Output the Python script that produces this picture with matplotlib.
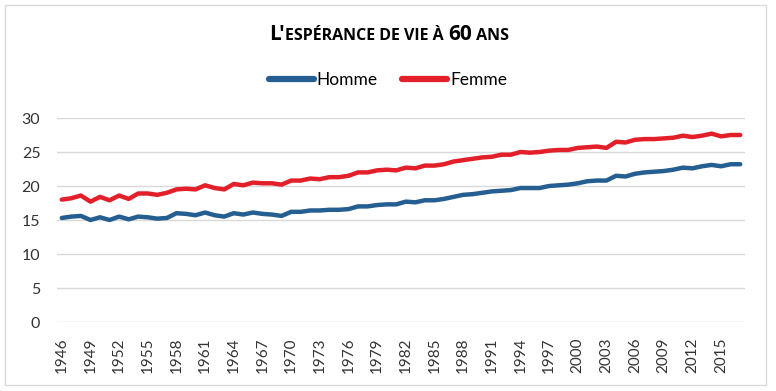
import matplotlib
matplotlib.use("Agg")
import matplotlib.pyplot as plt
from matplotlib.patches import Rectangle
from matplotlib.lines import Line2D

# espérance de vie à 60 ans (années)
years = list(range(1946, 2018))
homme = [15.3, 15.5, 15.6, 15.0, 15.4, 15.0, 15.5, 15.1, 15.5, 15.4,
         15.2, 15.3, 16.0, 15.9, 15.7, 16.1, 15.7, 15.5, 16.0, 15.8,
         16.1, 15.9, 15.8, 15.6, 16.2, 16.2, 16.4, 16.4, 16.5, 16.5,
         16.6, 17.0, 17.0, 17.2, 17.3, 17.3, 17.7, 17.6, 17.9, 17.9,
         18.1, 18.4, 18.7, 18.8, 19.0, 19.2, 19.3, 19.4, 19.7, 19.7,
         19.7, 20.0, 20.1, 20.2, 20.4, 20.7, 20.8, 20.8, 21.5, 21.4,
         21.8, 22.0, 22.1, 22.2, 22.4, 22.7, 22.6, 22.9, 23.1, 22.9,
         23.2, 23.2]
femme = [18.0, 18.2, 18.6, 17.7, 18.4, 17.9, 18.6, 18.1, 18.9, 18.9,
         18.7, 19.0, 19.5, 19.6, 19.5, 20.1, 19.7, 19.5, 20.3, 20.1,
         20.5, 20.4, 20.4, 20.2, 20.8, 20.8, 21.1, 21.0, 21.3, 21.3,
         21.5, 22.0, 22.0, 22.3, 22.4, 22.3, 22.7, 22.6, 23.0, 23.0,
         23.2, 23.6, 23.8, 24.0, 24.2, 24.3, 24.6, 24.6, 25.0, 24.9,
         25.0, 25.2, 25.3, 25.3, 25.6, 25.7, 25.8, 25.6, 26.5, 26.4,
         26.8, 26.9, 26.9, 27.0, 27.1, 27.4, 27.2, 27.4, 27.7, 27.3,
         27.5, 27.5]
yticks = [0, 5, 10, 15, 20, 25, 30]

BLUE = "#255E91"
RED = "#E3202A"
GRID = "#D9D9D9"
FONT = "Lato"

plt.rcParams["font.family"] = [FONT, "DejaVu Sans"]

fig = plt.figure(figsize=(7.76, 3.91), dpi=100)
fig.patches.append(Rectangle((5 / 776, 6 / 391), 761 / 776, 380 / 391,
                             transform=fig.transFigure, fill=False,
                             edgecolor=GRID, lw=1))

ax = fig.add_axes([57 / 776, 1 - 322 / 391, 688 / 776, 204 / 391])
x = list(range(len(years)))
ax.plot(x, homme, color=BLUE, lw=3.2, solid_capstyle="round", label="Homme")
ax.plot(x, femme, color=RED, lw=3.2, solid_capstyle="round", label="Femme")

ax.set_xlim(-0.5, len(years) - 0.5)
ax.set_ylim(0, 30)
ax.set_yticks(yticks)
ax.set_yticklabels([str(v) for v in yticks], fontsize=11.5, color="#333333")
tick_idx = x[::3]
ax.set_xticks(tick_idx)
ax.set_xticklabels([str(years[i]) for i in tick_idx], rotation=90,
                   fontsize=11, color="#333333")
ax.tick_params(length=0)
ax.tick_params(axis="y", pad=12)
ax.tick_params(axis="x", pad=11)
ax.grid(axis="y", color=GRID, lw=1)
ax.set_axisbelow(True)
for s in ax.spines.values():
    s.set_visible(False)

# titre en petites capitales
pieces = [("L'", 15), ("ESPÉRANCE DE VIE À ", 11.5), ("60", 15), (" ANS", 11.5)]
renderer = fig.canvas.get_renderer()
texts = []
total = 0
for s, size in pieces:
    t = fig.text(0, 1 - 40 / 391, s, fontsize=size, fontweight="bold",
                 family=["Open Sans", "DejaVu Sans"], ha="left", va="baseline")
    w = t.get_window_extent(renderer).width
    texts.append((t, w))
    total += w
xpos = 389 - total / 2
for t, w in texts:
    t.set_x(xpos / 776)
    xpos += w

handles = [Line2D([], [], color=BLUE, lw=4.5, solid_capstyle="round"),
           Line2D([], [], color=RED, lw=4.5, solid_capstyle="round")]
fig.legend(handles, ["Homme", "Femme"], loc="center",
           bbox_to_anchor=(388 / 776, 1 - 80 / 391), ncol=2, frameon=False,
           fontsize=12.5, handlelength=2.6, handletextpad=0.15,
           columnspacing=1.4)

fig.savefig("out.png", dpi=100)
